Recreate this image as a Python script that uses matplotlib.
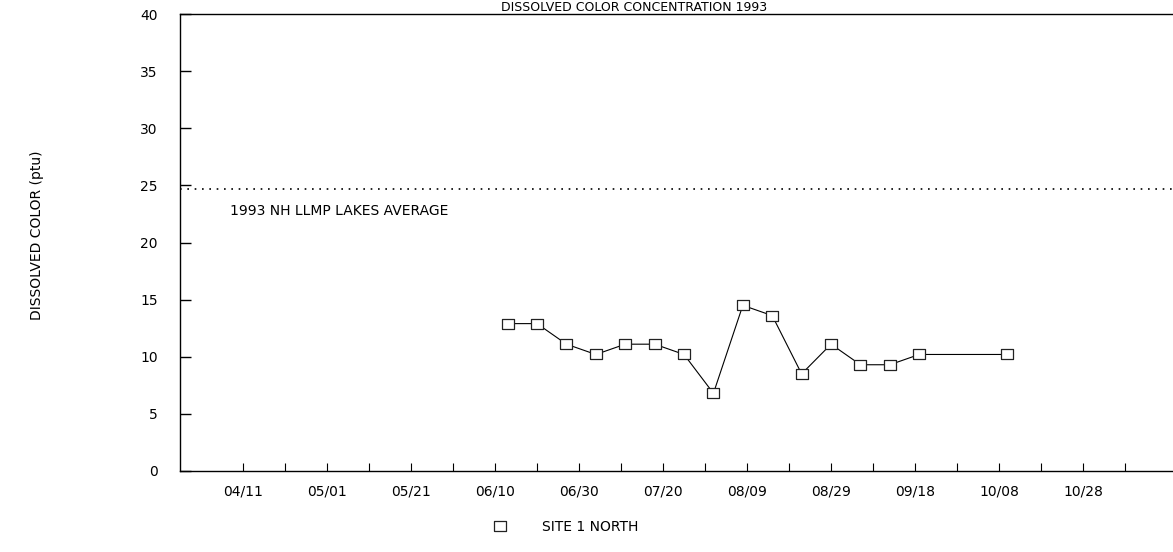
import datetime as dt
import matplotlib
matplotlib.use("Agg")
import matplotlib.pyplot as plt
import matplotlib.dates as mdates
from matplotlib.lines import Line2D

# sample dates (1993) and dissolved colour, ptu
dates = ["06/13", "06/20", "06/27", "07/04", "07/11", "07/18", "07/25", "08/01",
         "08/08", "08/15", "08/22", "08/29", "09/05", "09/12", "09/19", "10/10"]
color_vals = [12.9, 12.9, 11.1, 10.2, 11.1, 11.1, 10.2, 6.8,
              14.5, 13.6, 8.5, 11.1, 9.3, 9.3, 10.2, 10.2]
lakes_avg = 24.7
yticks = [0, 5, 10, 15, 20, 25, 30, 35, 40]
xtick_labels = ["04/11", "05/01", "05/21", "06/10", "06/30", "07/20",
                "08/09", "08/29", "09/18", "10/08", "10/28"]

def to_date(s):
    m, d = s.split("/")
    return dt.datetime(1993, int(m), int(d))

x = [to_date(s) for s in dates]
major = [to_date(s) for s in xtick_labels]
minor = [m + dt.timedelta(days=10) for m in major]

box = [(-1.3, -1), (1.3, -1), (1.3, 1), (-1.3, 1), (-1.3, -1)]

fig = plt.figure(figsize=(11.73, 5.52), dpi=100)
ax = fig.add_axes([180/1173, 1 - 471/552, 1 - 180/1173, (471 - 14)/552])

ax.plot(x, color_vals, color="black", lw=0.8,
        marker=box, ms=8.5, mfc="white", mec="#222222", mew=0.9)

ax.axhline(lakes_avg, color="black", lw=1.2, linestyle=(0, (1, 3.4)))
ax.text(to_date("04/08"), 22.75, "1993 NH LLMP LAKES AVERAGE",
        fontsize=10, va="center", ha="left")

ax.set_xlim(to_date("03/27"), to_date("11/18") + dt.timedelta(hours=10))
ax.set_ylim(0, 40)
ax.set_yticks(yticks)
ax.set_xticks(major)
ax.set_xticks(minor, minor=True)
ax.xaxis.set_major_formatter(mdates.DateFormatter("%m/%d"))

ax.tick_params(axis="y", direction="in", length=8, width=1, pad=16, labelsize=10)
ax.tick_params(axis="x", which="both", direction="in", length=6, width=0.8,
               pad=10, labelsize=10)
ax.spines["right"].set_visible(False)
for s in ["left", "top", "bottom"]:
    ax.spines[s].set_linewidth(1.0)

fig.text(37/1173, 1 - 235/552, "DISSOLVED COLOR (ptu)", rotation=90,
         ha="center", va="center", fontsize=10)
fig.text(634/1173, 1 - 11/552, "DISSOLVED COLOR CONCENTRATION 1993",
         ha="center", va="baseline", fontsize=9)

handle = Line2D([], [], ls="none", marker=box, ms=8.5,
                mfc="white", mec="#222222", mew=0.9)
ax.legend([handle], ["SITE 1 NORTH"], loc="center",
          bbox_to_anchor=(562/1173, 1 - 527/552), bbox_transform=fig.transFigure,
          frameon=False, fontsize=10, handletextpad=2.0)

fig.savefig("out.png", dpi=100)
